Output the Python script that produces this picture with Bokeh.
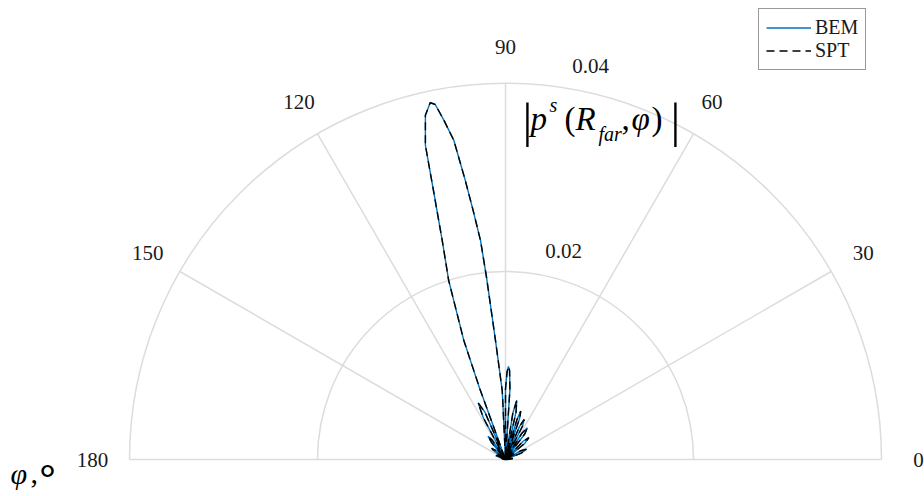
import numpy as np
from bokeh.plotting import figure
from bokeh.models import Label, Legend, LegendItem, ColumnDataSource
from bokeh.embed import file_html
from bokeh.resources import INLINE

# ---------------- data ----------------
phi_deg = [0, 4, 8, 11.5, 15, 22, 26, 30, 35, 40, 43, 46, 49, 53, 55.5, 58, 60,
           63, 65, 67, 68.5, 71, 72.5, 74, 75.2, 77.5, 79.2, 81, 84.5,
           86.4, 87.4, 88.2, 89.0, 90.0, 91.6, 92.7, 94.8, 95.95, 96.5, 97.4,
           98.2, 99.2, 100.3, 101.2, 101.9, 103.1, 104.3, 105.0, 106.1, 107.6,
           109.3, 110.0, 111.0, 113.5, 115.8, 118, 121, 124.5, 127, 129.5, 133,
           138, 141, 144, 149, 154, 157.5, 161, 167, 173, 180]
bem_r = [0, 0.0004, 0.0008, 0.0005, 0, 0.0018, 0.0025, 0.0018, 0, 0.0027, 0.0034,
         0.0027, 0, 0.0034, 0.0041, 0.0033, 0, 0.0040, 0.0047, 0.0038, 0, 0.0046,
         0.0054, 0.0044, 0, 0.0052, 0.0064, 0.0050, 0, 0.0075, 0.0095, 0.0099,
         0.0093, 0.0075, 0, 0.0073, 0.0127, 0.0195, 0.0234, 0.0267, 0.0300,
         0.0344, 0.0367, 0.0385, 0.0388, 0.0376, 0.0345, 0.0296, 0.0243, 0.0200,
         0.0134, 0.0078, 0, 0.0055, 0.0067, 0.0050, 0, 0.0025, 0.0031, 0.0023, 0,
         0.0015, 0.0019, 0.0014, 0, 0.0009, 0.0011, 0.0007, 0, 0.0004, 0]
spt_r = [0, 0.0004, 0.0008, 0.0005, 0, 0.0018, 0.0025, 0.0018, 0, 0.0027, 0.0034,
         0.0027, 0, 0.0034, 0.0041, 0.0033, 0, 0.0040, 0.0047, 0.0038, 0, 0.0046,
         0.0054, 0.0044, 0, 0.0052, 0.0064, 0.0050, 0, 0.0075, 0.0095, 0.0099,
         0.0093, 0.0075, 0, 0.0073, 0.0127, 0.0195, 0.0234, 0.0267, 0.0300,
         0.0344, 0.0367, 0.0385, 0.0388, 0.0376, 0.0345, 0.0296, 0.0243, 0.0200,
         0.0134, 0.0078, 0, 0.0055, 0.0067, 0.0050, 0, 0.0025, 0.0031, 0.0023, 0,
         0.0015, 0.0019, 0.0014, 0, 0.0009, 0.0011, 0.0007, 0, 0.0004, 0]
theta_ticks = [0, 30, 60, 90, 120, 150, 180]
theta_labels = ["0", "30", "60", "90", "120", "150", "180"]
r_ticks = [0.02, 0.04]
r_labels = ["0.02", "0.04"]
series_names = ["BEM", "SPT"]

# ---------------- layout ----------------
W, H = 924, 496
CX, CY = 505, 459          # pixel position of the pole
PX_PER_UNIT = 376 / 0.04   # pixels per unit radius
R_MAX = 0.04

def px(xp, yp):
    """pixel (from top-left) -> data coordinates"""
    return (xp - CX) / PX_PER_UNIT, (CY - yp) / PX_PER_UNIT

x0, y1 = px(0, 0)
x1, y0 = px(W, H)

p = figure(width=W, height=H, x_range=(x0, x1), y_range=(y0, y1),
           output_backend="svg", toolbar_location=None,
           x_axis_location=None, y_axis_location=None,
           min_border=0, background_fill_color="white", border_fill_color="white")
p.outline_line_color = None
p.xgrid.visible = False
p.ygrid.visible = False

GRID = "#dcdcdc"
# circular grid
p.arc(x=[0] * len(r_ticks), y=[0] * len(r_ticks), radius=r_ticks,
      start_angle=0, end_angle=np.pi, line_color=GRID, line_width=1.5)
# radial grid
th = np.deg2rad(theta_ticks)
p.segment(x0=[0] * len(th), y0=[0] * len(th), x1=R_MAX * np.cos(th), y1=R_MAX * np.sin(th),
          line_color=GRID, line_width=1.5)

FONT = "Liberation Serif"
TXT = "#1a1a1a"
# angle labels
r_lab = 413 / PX_PER_UNIT
for t, s in zip(theta_ticks, theta_labels):
    a = np.deg2rad(t)
    p.add_layout(Label(x=r_lab * np.cos(a), y=r_lab * np.sin(a), text=s,
                       text_align="center", text_baseline="middle",
                       text_font=FONT, text_font_size="21px", text_color=TXT))
# radius labels
r_lab_pos = {"0.02": (563, 250), "0.04": (590, 65)}
for s in r_labels:
    lx, ly = px(*r_lab_pos[s])
    p.add_layout(Label(x=lx, y=ly, text=s, text_align="center", text_baseline="middle",
                       text_font=FONT, text_font_size="21px", text_color=TXT))

# data
ph = np.deg2rad(phi_deg)
bem = ColumnDataSource(dict(x=np.array(bem_r) * np.cos(ph), y=np.array(bem_r) * np.sin(ph)))
spt = ColumnDataSource(dict(x=np.array(spt_r) * np.cos(ph), y=np.array(spt_r) * np.sin(ph)))
l1 = p.line("x", "y", source=bem, line_color="#0072BD", line_width=1.4)
l2 = p.line("x", "y", source=spt, line_color="black", line_width=1.4, line_dash="8 5")

legend = Legend(items=[LegendItem(label=series_names[0], renderers=[l1]),
                       LegendItem(label=series_names[1], renderers=[l2])],
                location=(758, H - 70), orientation="vertical",
                glyph_width=45, glyph_height=21, label_height=21, label_standoff=4,
                spacing=0, padding=7, margin=0,
                label_text_font=FONT, label_text_font_size="20px", label_text_color=TXT,
                border_line_color="#333333", border_line_width=1,
                background_fill_color="white", background_fill_alpha=1.0)
p.add_layout(legend, "center")

# text placed by its alphabetic baseline (converted to a 'middle' anchor)
def lab(xp, base, text, size, style="normal", align="left"):
    ym = base - 0.34 * size
    lx, ly = px(xp, ym)
    p.add_layout(Label(x=lx, y=ly, text=text, text_align=align, text_baseline="middle",
                       text_font=FONT, text_font_size=f"{size}px", text_font_style=style,
                       text_color="black"))

# radial axis title |p^s(R_far, phi)|
lab(522, 137, "|", 49)
lab(530, 130, "p", 33, "italic")
lab(549, 111, "s", 20, "italic")
lab(564, 130, "(", 33)
lab(575, 130, "R", 33, "italic")
lab(598, 140, "far", 20, "italic")
lab(621, 130, ",", 33)
lab(631, 130, "φ", 33, "italic")
lab(651, 130, ")", 33)
lab(670, 137, "|", 49)

# angular axis title phi, deg
lab(10, 483, "φ", 30, "italic")
lab(30, 483, ",", 30)
lab(46.5, 484, "∘", 40, "normal", "center")

open("out.html", "w").write(file_html(p, INLINE))
